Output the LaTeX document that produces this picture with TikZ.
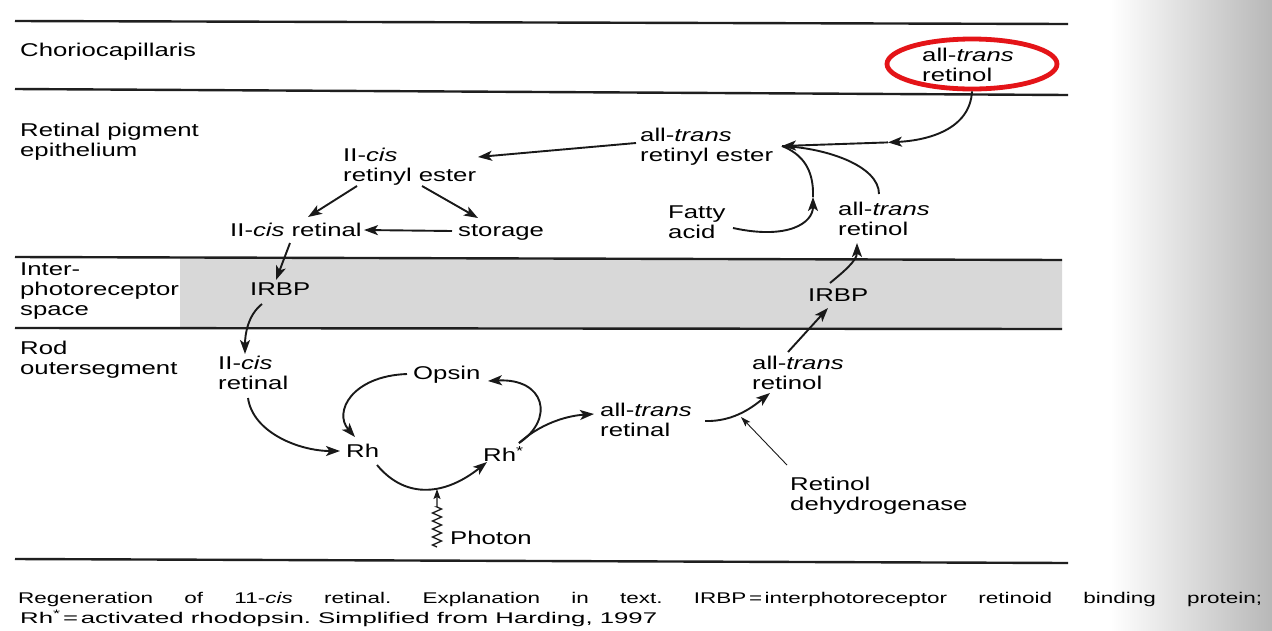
\documentclass[tikz,border=0pt]{standalone}
\usepackage{fontspec}
\setmainfont[FakeStretch=1.39]{Liberation Sans}
\newfontfamily\capfonta[FakeStretch=1.45]{Liberation Sans}
\newfontfamily\capfontb[FakeStretch=1.66]{Liberation Sans}
\usetikzlibrary{arrows.meta,shapes.geometric,decorations.pathmorphing,calc}
\definecolor{ovalred}{RGB}{228,20,24}
\definecolor{bandgray}{RGB}{216,216,216}
\begin{document}
\begin{tikzpicture}[x=1pt,y=-1pt,
  lbl/.style={font=\fontsize{18.5}{20}\selectfont, align=left, inner sep=0pt, anchor=north west},
  caption/.style={inner sep=0pt, anchor=base west},
  rulel/.style={line width=2.4pt, black!88},
  ln/.style={line width=1.9pt, black!90},
  arr/.style={ln, -{Stealth[length=14pt,width=10pt,inset=3.5pt]}},
  thinarr/.style={line width=0.9pt, black!90, -{Stealth[length=10pt,width=6.5pt,inset=2pt]}},
]
\useasboundingbox (0,0) rectangle (1272,630);
\fill[white] (0,0) rectangle (1272,630);
\shade[left color=white, right color=black!28] (1110,0) rectangle (1272,630);

% gray band and rules
\fill[bandgray] (180,258) -- (1062,260) -- (1062,329) -- (180,328) -- cycle;
\draw[rulel] (15,21) -- (1068,24);
\draw[rulel] (15,89) -- (1068,95);
\draw[rulel] (15,257) -- (1062,260);
\draw[rulel] (15,328) -- (1062,329);
\draw[rulel] (15,559) -- (1068,563);

% layer labels
\node[lbl] (chorio) at (20,43) {Choriocapillaris};
\node[lbl] (rpe) at (20,123) {Retinal pigment\\epithelium};
\node[lbl] (ips) at (20,263) {Inter-\\photoreceptor\\space};
\node[lbl] (ros) at (20,341) {Rod\\outersegment};

% molecules
\node[lbl] (atrol1) at (922,48) {all-\textit{trans}\\retinol};
\node[ellipse, draw=ovalred, line width=4.8pt, minimum width=170pt, minimum height=50pt] (oval) at (972,64) {};
\node[lbl] (ester) at (640,128) {all-\textit{trans}\\retinyl ester};
\node[lbl] (cisester) at (343,148) {II-\textit{cis}\\retinyl ester};
\node[lbl] (cisral) at (230,223) {II-\textit{cis} retinal};
\node[lbl] (storage) at (458,224) {storage};
\node[lbl] (fatty) at (668,206) {Fatty\\acid};
\node[lbl] (atrol2) at (838,202) {all-\textit{trans}\\retinol};
\node[lbl] (irbp1) at (250,283) {IRBP};
\node[lbl] (irbp2) at (808,289) {IRBP};
\node[lbl] (cisral2) at (218,356) {II-\textit{cis}\\retinal};
\node[lbl] (opsin) at (413,366) {Opsin};
\node[lbl] (rh) at (346,444) {Rh};
\node[lbl] (rhs) at (483,446) {Rh\textsuperscript{*}};
\node[lbl] (atral) at (600,403) {all-\textit{trans}\\retinal};
\node[lbl] (atrol3) at (752,356) {all-\textit{trans}\\retinol};
\node[lbl] (rdh) at (790,477) {Retinol\\dehydrogenase};
\node[lbl] (photon) at (450,531) {Photon};

% helper points
\coordinate (J) at ($(ester.north west)+(142,18)$);
\coordinate (M) at ($(oval.south)+(-84,51)$);
\coordinate (F0) at ($(fatty.north west)+(65,22)$);
\coordinate (F1) at ($(F0)+(80,-31)$);
\coordinate (S) at ($(rhs.north west)+(36,-3)$);

% connectors
\draw[arr] (oval.south) .. controls +(-2,38) and +(40,-2) .. (M);
\draw[arr] (M) -- (J);
\draw[arr] (F0) .. controls +(55,12) and +(0,26) .. (F1);
\draw[ln] (F1) .. controls +(1,-28) and +(20,8) .. (J);
\draw[ln] ($(atrol2.north west)+(41,-8)$) .. controls +(0,-28) and +(45,2) .. (J);
\draw[arr] ($(ester.north west)+(-4,15)$) -- ($(cisester.north west)+(135,9)$);
\draw[arr] ($(cisester.north west)+(14,38)$) -- ($(cisral.north west)+(78,-6)$);
\draw[arr] ($(cisester.north west)+(79,38)$) -- ($(storage.north west)+(20,-6)$);
\draw[arr] ($(storage.north west)+(-6,7)$) -- ($(cisral.north west)+(134,7)$);
\draw[arr] ($(cisral.north west)+(60,20)$) -- ($(irbp1.north west)+(26,-3)$);
\draw[arr] ($(irbp1.north west)+(12,21)$) .. controls +(-14,11) and +(0,-20) .. ($(cisral2.north west)+(27,-2)$);
\draw[arr] ($(cisral2.north west)+(30,42)$) .. controls +(5,35) and +(-40,0) .. ($(rh.north west)+(-6,7)$);
\draw[arr] ($(opsin.north west)+(-6,8)$) .. controls +(-55,2) and +(-22,-25) .. ($(rh.north west)+(9,-7)$);
\draw[arr] ($(rh.north west)+(31,21)$) .. controls +(30,36) and +(-40,32) .. ($(rhs.north west)+(4,16)$);
\draw[arr] (S) .. controls +(36,-24) and +(57,-3) .. ($(opsin.north west)+(75,15)$);
\draw[arr] (S) .. controls +(20,-18) and +(-30,2) .. ($(atral.north west)+(-6,11)$);
\draw[arr] ($(atral.north west)+(105,18)$) .. controls +(30,1) and +(-15,12) .. ($(atrol3.north west)+(18,37)$);
\draw[thinarr] ($(rdh.north west)+(-3,-12)$) -- ($(atral.north west)+(141,14)$);
\draw[arr] ($(atrol3.north west)+(36,-4)$) -- ($(irbp2.north west)+(20,19)$);
\draw[arr] ($(irbp2.north west)+(22,-6)$) .. controls +(12,-10) and +(0,18) .. ($(atrol2.north west)+(19,41)$);
\draw[line width=1.3pt, black!90, -{Stealth[length=10pt,width=7pt,inset=2pt]}]
  ($(photon.north west)+(-13,16)$)
  decorate[decoration={zigzag,amplitude=4.5pt,segment length=8pt}] {-- ($(photon.north west)+(-13,-24)$)}
  -- ($(photon.north west)+(-13,-42)$);

% caption
\node[caption] (cap1) at (18,603) {\makebox[1244pt][s]{\frenchspacing\capfonta\fontsize{15.5}{20}\selectfont Regeneration of 11-\textit{cis} retinal. Explanation in text. IRBP\,=\,interphotoreceptor retinoid binding protein;}};
\node[caption] (cap2) at (20,623) {\frenchspacing\capfontb\fontsize{15.5}{20}\selectfont Rh\textsuperscript{*}\,=\,activated rhodopsin. Simplified from Harding, 1997};
\end{tikzpicture}
\end{document}
